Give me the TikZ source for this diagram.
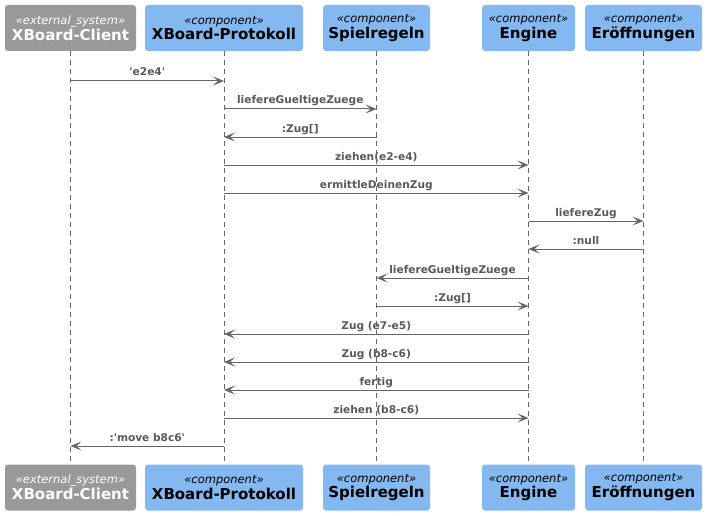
\documentclass[tikz,border=0pt]{standalone}
\usepackage{fontspec}
\setmainfont{DejaVu Sans}[Ligatures=TeXOff]
\usetikzlibrary{arrows.meta}
\definecolor{partblue}{HTML}{84B8F1}
\definecolor{partgray}{HTML}{999999}
\definecolor{linegray}{HTML}{666666}
\definecolor{txtgray}{HTML}{595959}
\tikzset{
  partbox/.style={draw=none, rounded corners=3pt, fill=partblue, align=center, inner sep=0pt, minimum height=46pt, text=black},
  extbox/.style={partbox, fill=partgray, text=white},
  lifeline/.style={draw=linegray, line width=0.8pt, dash pattern=on 5pt off 4pt},
  msg/.style={draw=linegray, line width=1pt, -{Stealth[length=11pt,width=9pt,inset=5pt]}},
  msglabel/.style={midway, anchor=base, yshift=5pt, inner sep=0pt, text=txtgray, font=\fontsize{10.6}{12}\selectfont\bfseries},
}
\newcommand{\stereo}[1]{{\fontsize{11.5}{13}\selectfont\itshape «#1»}}
\newcommand{\pname}[1]{{\fontsize{15}{17}\selectfont\bfseries #1}}
\begin{document}
\begin{tikzpicture}[x=1pt,y=-1pt]
\useasboundingbox (0,0) rectangle (706,516);
% top participants
\node[extbox, minimum width=131pt] (cl) at (70.5,28) {\stereo{external\_system}\\[1pt]\pname{XBoard-Client}};
\node[partbox, minimum width=158pt] (pr) at (224,28) {\stereo{component}\\[1pt]\pname{XBoard-Protokoll}};
\node[partbox, minimum width=107pt] (sr) at (376.5,28) {\stereo{component}\\[1pt]\pname{Spielregeln}};
\node[partbox, minimum width=93pt] (en) at (528.5,28) {\stereo{component}\\[1pt]\pname{Engine}};
\node[partbox, minimum width=117pt] (er) at (643.5,28) {\stereo{component}\\[1pt]\pname{Eröffnungen}};
% bottom participants
\node[extbox, minimum width=131pt] (clb) at (70.5,487.5) {\stereo{external\_system}\\[1pt]\pname{XBoard-Client}};
\node[partbox, minimum width=158pt] (prb) at (224,487.5) {\stereo{component}\\[1pt]\pname{XBoard-Protokoll}};
\node[partbox, minimum width=107pt] (srb) at (376.5,487.5) {\stereo{component}\\[1pt]\pname{Spielregeln}};
\node[partbox, minimum width=93pt] (enb) at (528.5,487.5) {\stereo{component}\\[1pt]\pname{Engine}};
\node[partbox, minimum width=117pt] (erb) at (643.5,487.5) {\stereo{component}\\[1pt]\pname{Eröffnungen}};
% messages
\draw[msg] (cl.south |- 0,81) -- node[msglabel] {'e2e4'} (pr.south |- 0,81);
\draw[msg] (pr.south |- 0,109) -- node[msglabel] {liefereGueltigeZuege} (sr.south |- 0,109);
\draw[msg] (sr.south |- 0,137) -- node[msglabel] {:Zug[]} (pr.south |- 0,137);
\draw[msg] (pr.south |- 0,165) -- node[msglabel] {ziehen(e2-e4)} (en.south |- 0,165);
\draw[msg] (pr.south |- 0,193) -- node[msglabel] {ermittleDeinenZug} (en.south |- 0,193);
\draw[msg] (en.south |- 0,221) -- node[msglabel] {liefereZug} (er.south |- 0,221);
\draw[msg] (er.south |- 0,249) -- node[msglabel] {:null} (en.south |- 0,249);
\draw[msg] (en.south |- 0,278) -- node[msglabel] {liefereGueltigeZuege} (sr.south |- 0,278);
\draw[msg] (sr.south |- 0,306) -- node[msglabel] {:Zug[]} (en.south |- 0,306);
\draw[msg] (en.south |- 0,334) -- node[msglabel] {Zug (e7-e5)} (pr.south |- 0,334);
\draw[msg] (en.south |- 0,362) -- node[msglabel] {Zug (b8-c6)} (pr.south |- 0,362);
\draw[msg] (en.south |- 0,390) -- node[msglabel] {fertig} (pr.south |- 0,390);
\draw[msg] (pr.south |- 0,418) -- node[msglabel] {ziehen (b8-c6)} (en.south |- 0,418);
\draw[msg] (pr.south |- 0,446) -- node[msglabel] {:'move b8c6'} (cl.south |- 0,446);
% lifelines
\draw[lifeline] (cl.south) -- (clb.north);
\draw[lifeline] (pr.south) -- (prb.north);
\draw[lifeline] (sr.south) -- (srb.north);
\draw[lifeline] (en.south) -- (enb.north);
\draw[lifeline] (er.south) -- (erb.north);
\end{tikzpicture}
\end{document}
